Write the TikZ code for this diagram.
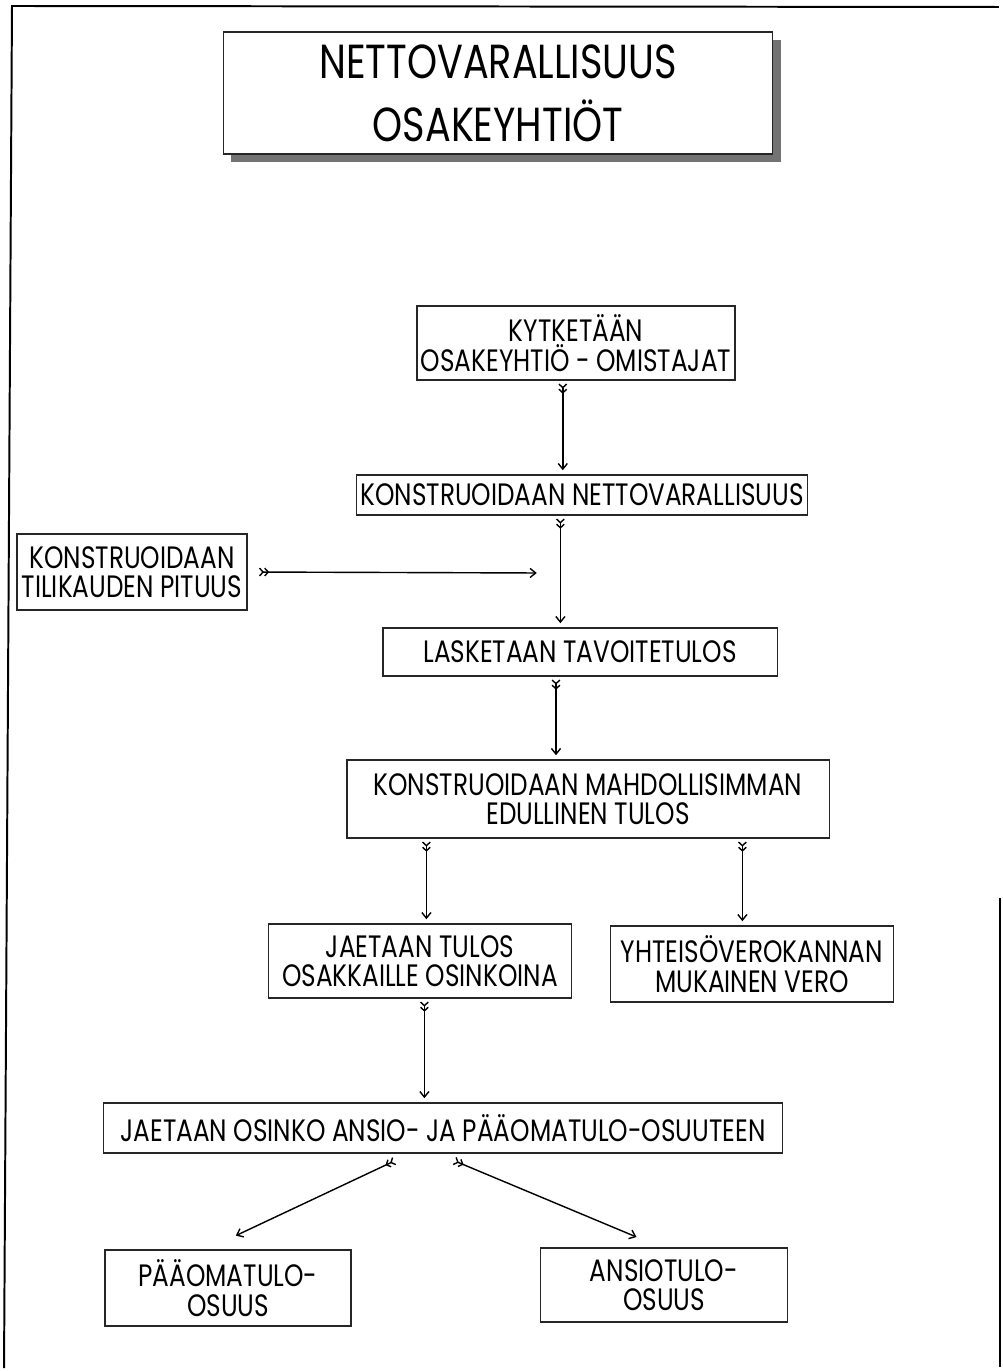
\documentclass[tikz,border=0pt]{standalone}
\usepackage{fontspec}
\setmainfont{Poppins}[FakeStretch=0.8]
\usetikzlibrary{arrows.meta,shadows}

\begin{document}
\begin{tikzpicture}[
	x=0.025cm,
	y=-0.025cm,
	shorten >=3pt,
	shorten <=2pt,
	align=center,
	box/.style={
		draw=black!85,
		line width=0.8pt,
		inner sep=2pt,
		font=\fontsize{22}{21}\selectfont
	},
	flow/.style={
		line width=1pt,
		{Straight Barb[reversed,length=2.5pt,width=5.5pt]Straight Barb[reversed,length=2.5pt,width=5.5pt]}-{Straight Barb[length=4pt,width=6.5pt]}
	}]

   \useasboundingbox (0,0) rectangle (1003,1371);
   \draw[line width=1.4pt] (4,1371) -- (12,6) -- (1003,7);
   \draw[line width=1.4pt] (1000,895) -- (1000,1371);

   \node[box, fill=white, minimum width=13.73cm, minimum height=3.05cm,
     font=\fontsize{34}{45}\selectfont,
     drop shadow={shadow xshift=0.2cm, shadow yshift=-0.2cm, fill=black!55, opacity=1}]
     (title) at (498,93) {NETTOVARALLISUUS\\OSAKEYHTIÖT};

   \node[box, minimum width=7.95cm, minimum height=1.85cm] (s_0) at (576,343) {KYTKETÄÄN\\OSAKEYHTIÖ - OMISTAJAT};
   \node[box, minimum width=11.28cm, minimum height=1cm] (s_1) at (582,495) {KONSTRUOIDAAN NETTOVARALLISUUS};
   \node[box, minimum width=5.75cm, minimum height=1.9cm] (s_2) at (132,572) {KONSTRUOIDAAN\\TILIKAUDEN PITUUS};
   \node[box, minimum width=9.85cm, minimum height=1.2cm] (s_3) at (580,652) {LASKETAAN TAVOITETULOS};
   \node[box, minimum width=12.05cm, minimum height=1.95cm] (s_4) at (588,799) {KONSTRUOIDAAN MAHDOLLISIMMAN\\EDULLINEN TULOS};
   \node[box, minimum width=7.58cm, minimum height=1.85cm] (s_5) at (420,961) {JAETAAN TULOS\\OSAKKAILLE OSINKOINA};
   \node[box, minimum width=7.08cm, minimum height=1.9cm] (s_6) at (752,964) {YHTEISÖVEROKANNAN\\MUKAINEN VERO};
   \node[box, minimum width=16.98cm, minimum height=1.25cm] (s_7) at (443,1128) {JAETAAN OSINKO ANSIO- JA PÄÄOMATULO-OSUUTEEN};
   \node[box, minimum width=6.15cm, minimum height=1.9cm] (s_8) at (228,1288) {PÄÄOMATULO-\\OSUUS};
   \node[box, minimum width=6.18cm, minimum height=1.85cm] (s_9) at (664,1285) {ANSIOTULO-\\OSUUS};
   \coordinate (join) at (541,573);

   \path[flow]
    ([xshift=-0.33cm]s_0.south) edge ([xshift=-0.33cm]s_0.south |- s_1.north)
    ([xshift=-0.54cm]s_1.south) edge ([xshift=-0.54cm]s_1.south |- s_3.north)
    (s_2.east) edge [shorten <=8pt] (join)
    ([xshift=-0.6cm]s_3.south) edge ([xshift=-0.6cm]s_3.south |- s_4.north)
    ([xshift=0.16cm]s_5.north |- s_4.south) edge ([xshift=0.16cm]s_5.north)
    ([xshift=-0.24cm]s_6.north |- s_4.south) edge ([xshift=-0.24cm]s_6.north)
    ([xshift=0.11cm]s_5.south) edge ([xshift=0.11cm]s_5.south |- s_7.north)
    ([xshift=-1.14cm,yshift=-0.15cm]s_7.south) edge ([xshift=0.1cm,yshift=0.3cm]s_8.north)
    ([xshift=0.21cm,yshift=-0.15cm]s_7.south) edge ([xshift=-0.59cm,yshift=0.22cm]s_9.north);
\end{tikzpicture}
\end{document}
